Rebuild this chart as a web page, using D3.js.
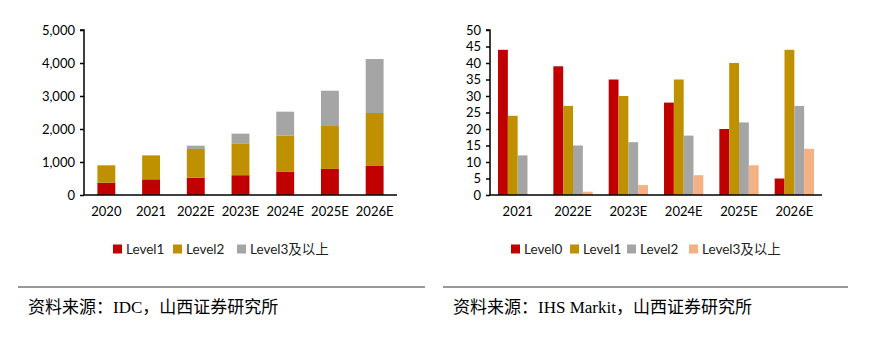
<!DOCTYPE html>
<html><head><meta charset="utf-8">
<script src="https://cdn.jsdelivr.net/npm/d3@7"></script>
<style>
body{margin:0;background:#fff;}
svg{display:block;}
</style></head>
<body>
<svg id="c" width="874" height="364"></svg>
<script>
// Left chart data (stacked)
const yearsL = ["2020","2021","2022E","2023E","2024E","2025E","2026E"];
const level1L = [370,475,525,600,700,790,880];
const level2L = [530,725,870,965,1100,1300,1605];
const level3L = [0,0,100,295,725,1070,1635];
const ticksL = [0,1000,2000,3000,4000,5000];
const seriesNamesL = ["Level1","Level2","Level3及以上"];

// Right chart data (grouped)
const yearsR = ["2021","2022E","2023E","2024E","2025E","2026E"];
const level0R = [44,39,35,28,20,5];
const level1R = [24,27,30,35,40,44];
const level2R = [12,15,16,18,22,27];
const level3R = [0,1,3,6,9,14];
const ticksR = [0,5,10,15,20,25,30,35,40,45,50];
const seriesNamesR = ["Level0","Level1","Level2","Level3及以上"];

const sourceL = "资料来源：IDC，山西证券研究所";
const sourceR = "资料来源：IHS Markit，山西证券研究所";

const red="#C00000", gold="#BF9000", gray="#A5A5A5", peach="#F4B183";
const font = "Lato, 'Noto Sans CJK SC', sans-serif";
const serif = "'Liberation Serif','Noto Sans CJK SC',serif";
const svg = d3.select("#c");

// ---------- Left chart ----------
{
  const x0=84, x1=397, yTop=30, yBot=195;
  const x = d3.scaleBand().domain(yearsL).range([x0,x1]).paddingInner(0.6).paddingOuter(0.3);
  const y = d3.scaleLinear().domain([0,5000]).range([yBot,yTop]);
  const rows = yearsL.map((yr,i)=>({year:yr,Level1:level1L[i],Level2:level2L[i],"Level3及以上":level3L[i]}));
  const stack = d3.stack().keys(seriesNamesL)(rows);
  const colors=[red,gold,gray];
  const g = svg.append("g");
  stack.forEach((s,k)=>{
    g.append("g").selectAll("rect").data(s).join("rect")
      .attr("x",d=>x(d.data.year)).attr("width",x.bandwidth())
      .attr("y",d=>y(d[1])).attr("height",d=>y(d[0])-y(d[1]))
      .attr("fill",colors[k]);
  });
  const ya = g.append("g").attr("transform",`translate(${x0},0)`)
    .call(d3.axisLeft(y).tickValues(ticksL).tickFormat(d3.format(",")).tickSize(4).tickPadding(5));
  ya.select(".domain").attr("d",`M-4,${yTop}H0V${yBot}`);
  const xa = g.append("g").attr("transform",`translate(0,${yBot})`)
    .call(d3.axisBottom(x).tickSize(0).tickPadding(12));
  xa.select(".domain").attr("d",`M${x0},0H${x1}`);
  [ya,xa].forEach(a=>{a.selectAll("text").attr("font-family",font).attr("font-size",13).attr("fill","#000");
    a.selectAll("line,path").attr("stroke","#000").attr("stroke-width",1.5);});
  // legend
  const lx=[113,173,237];
  seriesNamesL.forEach((n,k)=>{
    g.append("rect").attr("x",lx[k]).attr("y",244.5).attr("width",9).attr("height",9).attr("fill",colors[k]);
    g.append("text").attr("x",lx[k]+13).attr("y",253.5).text(n).attr("font-family",font).attr("font-size",13.5).attr("fill","#222");
  });
  g.append("line").attr("x1",18).attr("x2",425).attr("y1",287).attr("y2",287).attr("stroke","#333").attr("stroke-width",1);
  g.append("text").attr("x",28).attr("y",313).text(sourceL)
    .attr("font-family",serif).attr("font-size",17).attr("fill","#000");
}

// ---------- Right chart ----------
{
  const x0=490, x1=822, yTop=30, yBot=195;
  const x = d3.scaleBand().domain(yearsR).range([x0,x1]).paddingInner(0.29).paddingOuter(0.145);
  const xi = d3.scaleBand().domain(seriesNamesR).range([0,x.bandwidth()]);
  const y = d3.scaleLinear().domain([0,50]).range([yBot,yTop]);
  const vals=[level0R,level1R,level2R,level3R];
  const colors=[red,gold,gray,peach];
  const g = svg.append("g");
  seriesNamesR.forEach((n,k)=>{
    g.append("g").selectAll("rect").data(yearsR.map((yr,i)=>({yr,v:vals[k][i]}))).join("rect")
      .attr("x",d=>x(d.yr)+xi(n)).attr("width",xi.bandwidth())
      .attr("y",d=>y(d.v)).attr("height",d=>yBot-y(d.v)).attr("fill",colors[k]);
  });
  const ya = g.append("g").attr("transform",`translate(${x0},0)`)
    .call(d3.axisLeft(y).tickValues(ticksR).tickSize(4).tickPadding(5));
  ya.select(".domain").attr("d",`M-4,${yTop}H0V${yBot}`);
  const xa = g.append("g").attr("transform",`translate(0,${yBot})`)
    .call(d3.axisBottom(x).tickSize(0).tickPadding(12));
  xa.select(".domain").attr("d",`M${x0},0H${x1}`);
  [ya,xa].forEach(a=>{a.selectAll("text").attr("font-family",font).attr("font-size",13).attr("fill","#000");
    a.selectAll("line,path").attr("stroke","#000").attr("stroke-width",1.5);});
  const lx=[511,570,627,689];
  seriesNamesR.forEach((n,k)=>{
    g.append("rect").attr("x",lx[k]).attr("y",244.5).attr("width",9).attr("height",9).attr("fill",colors[k]);
    g.append("text").attr("x",lx[k]+13).attr("y",253.5).text(n).attr("font-family",font).attr("font-size",13.5).attr("fill","#222");
  });
  g.append("line").attr("x1",443).attr("x2",848).attr("y1",287).attr("y2",287).attr("stroke","#333").attr("stroke-width",1);
  g.append("text").attr("x",453).attr("y",313).text(sourceR)
    .attr("font-family",serif).attr("font-size",17).attr("fill","#000");
}
</script>
</body></html>
